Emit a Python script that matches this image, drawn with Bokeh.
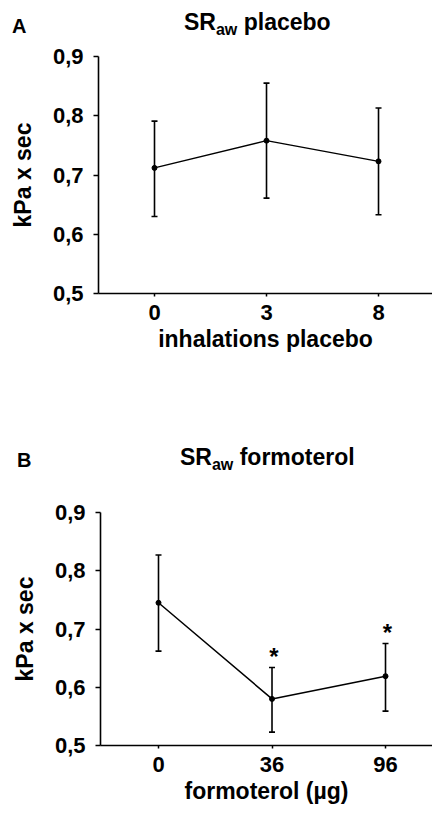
from bokeh.plotting import figure
from bokeh.models import Whisker, TeeHead, FixedTicker, ColumnDataSource, Div
from bokeh.layouts import column
from bokeh.embed import file_html
from bokeh.resources import INLINE
from bokeh.core.properties import value

# ---- data ----
placebo_labels = ["0", "3", "8"]
placebo_mean = [0.712, 0.758, 0.723]
placebo_upper = [0.791, 0.855, 0.813]
placebo_lower = [0.630, 0.661, 0.633]

formoterol_labels = ["0", "36", "96"]
formoterol_mean = [0.745, 0.580, 0.619]
formoterol_upper = [0.827, 0.634, 0.675]
formoterol_lower = [0.662, 0.523, 0.559]
formoterol_sig = ["", "*", "*"]

y_ticks = [0.5, 0.6, 0.7, 0.8, 0.9]
y_tick_labels = ["0,5", "0,6", "0,7", "0,8", "0,9"]

FONT = "Liberation Sans"
W = 432
TICK_FS = "22px"
LABEL_FS = "23px"


def make_header(height, letter, lx, ltop, rest, tx, ttop):
    html = (
        f'<div style="position:relative;width:{W}px;height:{height}px;margin:0;padding:0;'
        f'font-family:\'{FONT}\', Arial, sans-serif;font-weight:bold;color:#000;">'
        f'<span style="position:absolute;left:{lx}px;top:{ltop}px;font-size:20px;'
        f'line-height:20px;white-space:nowrap;">{letter}</span>'
        f'<span style="position:absolute;left:{tx}px;top:{ttop}px;font-size:23px;'
        f'line-height:23px;white-space:nowrap;">SR<span style="font-size:16px;'
        f'vertical-align:-5px;line-height:16px;">aw</span> {rest}</span>'
        f'</div>'
    )
    return Div(text=html, width=W, height=height, margin=(0, 0, 0, 0),
               styles={"overflow": "visible"})


def make_panel(labels, mean, upper, lower, xlabel, height, top, bottom, left,
               x_start, x_end, sig=None):
    pos = list(range(1, len(labels) + 1))
    p = figure(width=W, height=height, x_range=(x_start, x_end), y_range=(0.5, 0.9),
               output_backend="svg", toolbar_location=None,
               min_border_left=left, min_border_right=0,
               min_border_top=top, min_border_bottom=bottom)
    p.frame_align = False
    p.outline_line_color = None
    p.xgrid.visible = False
    p.ygrid.visible = False

    for ax in (p.xaxis[0], p.yaxis[0]):
        ax.axis_line_width = 1.6
        ax.axis_line_color = "black"
        ax.major_tick_line_color = "black"
        ax.major_tick_line_width = 1.5
        ax.minor_tick_line_color = None
        ax.major_tick_in = 0
        ax.major_label_text_font = FONT
        ax.major_label_text_font_style = "bold"
        ax.major_label_text_font_size = TICK_FS
        ax.major_label_text_color = "black"
        ax.axis_label_text_font = FONT
        ax.axis_label_text_font_style = "bold"
        ax.axis_label_text_font_size = LABEL_FS
        ax.axis_label_text_color = "black"

    p.xaxis.ticker = FixedTicker(ticks=pos)
    p.xaxis.major_label_overrides = {k: v for k, v in zip(pos, labels)}
    p.xaxis.major_tick_out = 3
    p.xaxis.major_label_standoff = 8
    p.xaxis.axis_label = xlabel
    p.xaxis.axis_label_standoff = 3

    p.yaxis.ticker = FixedTicker(ticks=y_ticks)
    p.yaxis.major_label_overrides = {k: v for k, v in zip(y_ticks, y_tick_labels)}
    p.yaxis.major_tick_out = 5
    p.yaxis.major_label_standoff = 10
    p.yaxis.axis_label = "kPa x sec"
    p.yaxis.axis_label_standoff = 14

    data = dict(x=pos, mean=mean, upper=upper, lower=lower)
    if sig is not None:
        data["sig"] = sig
    src = ColumnDataSource(data)
    p.add_layout(Whisker(base="x", upper="upper", lower="lower", source=src,
                         dimension="height", line_width=1.6, line_color="black",
                         upper_head=TeeHead(size=6, line_width=1.6, line_color="black"),
                         lower_head=TeeHead(size=6, line_width=1.6, line_color="black")))
    p.line("x", "mean", source=src, line_width=1.5, line_color="black")
    p.scatter("x", "mean", source=src, size=5, color="black")
    if sig is not None:
        p.text("x", "upper", text="sig", source=src, x_offset=2, y_offset=-11,
               text_align="center", text_baseline="alphabetic",
               text_font=value(FONT), text_font_style="bold",
               text_font_size="24px", text_color="black")
    return p


hA = make_header(40, "A", 12, 16, "placebo", 184, 10.5)
pA = make_panel(placebo_labels, placebo_mean, placebo_upper, placebo_lower,
                "inhalations placebo", height=360, top=16, bottom=107, left=98,
                x_start=0.5, x_end=3.482)

hB = make_header(80, "B", 17, 50, "formoterol", 180, 45.5)
pB = make_panel(formoterol_labels, formoterol_mean, formoterol_upper, formoterol_lower,
                "formoterol (µg)", height=334, top=32, bottom=69, left=100,
                x_start=0.489, x_end=3.414, sig=formoterol_sig)

layout = column(hA, pA, hB, pB, spacing=0)
open("out.html", "w").write(file_html(layout, INLINE))
